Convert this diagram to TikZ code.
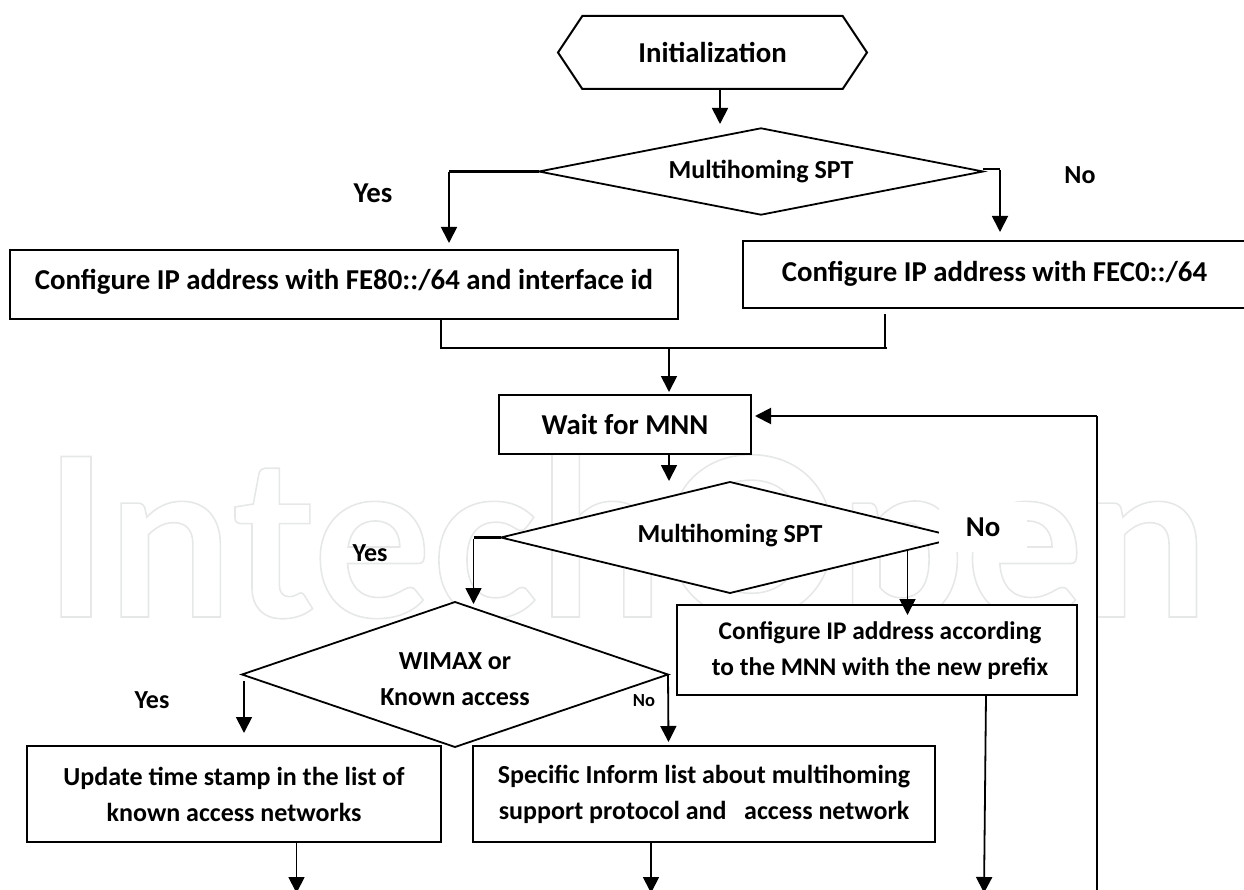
\documentclass[tikz,border=0pt]{standalone}
\usepackage{fontspec}
\setmainfont{Carlito}
\newfontfamily\wmfont{Lato}
\usetikzlibrary{shapes.geometric,shapes.symbols,arrows.meta}
\definecolor{wmgray}{HTML}{E6E8E8}
\newcommand{\fbig}{\fontsize{28.8}{36}\selectfont\bfseries}
\newcommand{\fmid}{\fontsize{26}{36}\selectfont\bfseries}
\newcommand{\fsma}{\fontsize{18.5}{20}\selectfont\bfseries}
\newcommand{\vmove}[2]{\raisebox{#1}[\height][\depth]{#2}}
\tikzset{
  base/.style={draw=black,line width=2pt,inner sep=0pt,outer sep=0pt,fill=white,align=center,font=\fbig},
  procbox/.style={base,rectangle,minimum width=#1},
  hexa/.style={base,signal,signal to=west and east,signal pointer angle=112.6},
  decide/.style={base,diamond,aspect=2.9,line width=1.8pt,font=\fmid},
  lab/.style={inner sep=0pt,outer sep=0pt,font=\fbig},
  conn/.style={line width=1.8pt},
  stub/.style={line width=2.6pt},
  arr/.style={conn,-{Triangle[length=16pt,width=16pt]}},
}
\begin{document}
\begin{tikzpicture}[x=1pt,y=-1pt]
\useasboundingbox (0,0) rectangle (1244,890);
% watermark
\node[inner sep=0pt,anchor=base west,color=wmgray] (wm) at (43,617)
  {\wmfont\bfseries\fontsize{222}{222}\selectfont\special{pdf:code 1 Tr 1.6 w}IntechOpen\special{pdf:code 0 Tr}};
% nodes
\node[hexa,minimum width=309pt,minimum height=73pt] (init) at (712.5,52.5) {Initialization};
\node[decide,minimum width=444pt,minimum height=85pt] (d1) at (761,171.5) {Multihoming SPT};
\node[procbox=668pt,minimum height=69pt] (b1) at (344,284.5) {\vmove{3pt}{Configure IP address with FE80::/64 and interface id}};
\node[procbox=503pt,minimum height=67pt] (b2) at (994.5,274.5) {\vmove{0.5pt}{Configure IP address with FEC0::/64}};
\node[procbox=252pt,minimum height=59pt] (wait) at (625,424.5) {Wait for MNN};
\node[decide,minimum width=458pt,minimum height=111pt] (d2) at (730,537.5) {\vmove{1.5pt}{Multihoming SPT}};
\node[decide,minimum width=426pt,minimum height=145pt] (d3) at (455,674.5) {\vmove{-6pt}{\begin{tabular}{@{}c@{}}WIMAX or\\Known access\end{tabular}}};
\node[procbox=400pt,minimum height=90pt,font=\fontsize{25.4}{36}\selectfont\bfseries] (b3) at (877,650) {\hspace*{6pt}\begin{tabular}{@{}c@{}}Configure IP address according\\to the MNN with the new prefix\end{tabular}};
\node[procbox=414pt,minimum height=96pt,font=\fmid] (b4) at (234,794) {Update time stamp in the list of\\known access networks};
\node[procbox=462pt,minimum height=96pt,font=\fmid] (b5) at (704,794) {Specific Inform list about multihoming\\support protocol and \ \ access network};
% labels
\node[lab] (yes1) at (373,193) {Yes};
\node[lab,font=\fmid] (no1) at (1080,175) {No};
\node[lab,fill=white,minimum width=88pt,minimum height=50pt] (no2) at (983,527) {No};
\node[lab,font=\fmid] (yes2) at (370,553) {Yes};
\node[lab,font=\fmid] (yes3) at (152,700) {Yes};
\node[lab,font=\fsma] (no3) at (644,701) {No};
% routing coordinates
\coordinate (a1) at (720,124);
\coordinate (a2) at (449,243);
\coordinate (a3) at (1000,232);
\coordinate (j1) at (441,348);
\coordinate (j2) at (885,348);
\coordinate (j3) at (669,348);
\coordinate (a4) at (669,392);
\coordinate (a5) at (669,481);
\coordinate (a6) at (473.5,604);
\coordinate (a7) at (907.5,615);
\coordinate (a8) at (244,733);
\coordinate (a9) at (668.5,742);
\coordinate (e1) at (296.5,893);
\coordinate (e2) at (651,893);
\coordinate (e3) at (984,893);
\coordinate (r1) at (1096.5,416);
\coordinate (r2) at (1096.5,892);
\coordinate (s1) at (885,314);
\coordinate (s2) at (244,681);
\coordinate (s3) at (986,695);
\coordinate (n1) at (1000,169);
% connectors
\draw[arr] (a1 |- init.south) -- (a1);
\draw[stub] (d1.west) -- (a2 |- d1.west);
\draw[arr] ([yshift=-1pt]a2 |- d1.west) -- (a2);
\draw[stub] (d1.east |- n1) -- (n1);
\draw[arr] ([yshift=-1pt]n1) -- (a3);
\draw[conn] (j1 |- b1.south) -- (j1);
\draw[conn] (s1) -- (j2);
\draw[conn,line width=2pt] ([xshift=-1pt]j1) -- ([xshift=2pt]j2);
\draw[arr] (j3) -- (a4);
\draw[arr] (a5 |- wait.south) -- (a5);
\draw[stub] (d2.west) -- (a6 |- d2.west);
\draw[arr] ([yshift=-1pt]a6 |- d2.west) -- (a6);
\draw[arr] (a7 |- 0,551) -- (a7);
\draw[arr] (s2) -- (a8);
\draw[arr] (d3.east) -- (a9);
\draw[arr] (e1 |- b4.south) -- (e1);
\draw[arr] (e2 |- b5.south) -- (e2);
\draw[arr] (s3) -- (e3);
\draw[conn,line width=2pt] (r2) -- (r1);
\draw[conn,line width=2pt,-{Triangle[length=16pt,width=16pt]}] (r1) -- ([xshift=4pt]wait.east |- r1);
\end{tikzpicture}
\end{document}
